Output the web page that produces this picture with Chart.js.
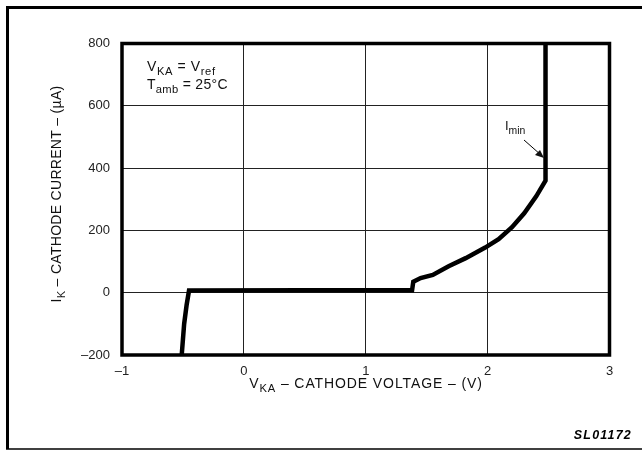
<!DOCTYPE html>
<html>
<head>
<meta charset="utf-8">
<script src="https://cdn.jsdelivr.net/npm/chart.js@4"></script>
<style>
  body { margin: 0; background: #fff; }
  #wrap { position: relative; width: 642px; height: 450px; }
</style>
</head>
<body>
<div id="wrap"><canvas id="chart" width="642" height="450"></canvas></div>
<script>
// Curve: cathode voltage (V) vs cathode current (uA)
const voltage = [-0.51, -0.50, -0.49, -0.47, -0.45, 0.50, 1.38, 1.39, 1.45, 1.55, 1.68, 1.82, 1.98, 2.09, 2.20, 2.30, 2.40, 2.475, 2.475];
const current = [-200, -150, -100, -40, 7, 8, 8, 35, 47, 57, 85, 111, 145, 172, 210, 255, 310, 360, 800];

const xTicks = [-1, 0, 1, 2, 3];
const yTicks = [-200, 0, 200, 400, 600, 800];

const points = voltage.map((v, i) => ({ x: v, y: current[i] }));

const FONT = '"Liberation Sans", Arial, sans-serif';

// draw text made of [text, isSubscript] parts
function drawParts(ctx, parts, x, y, size, align, spacing) {
    ctx.letterSpacing = (spacing || 0) + 'px';
    let widths = parts.map(p => {
        ctx.font = (p[1] ? size * 0.8 : size) + 'px ' + FONT;
        return ctx.measureText(p[0]).width;
    });
    let total = widths.reduce((a, b) => a + b, 0);
    let cx = align === 'center' ? x - total / 2 : x;
    ctx.textAlign = 'left';
    ctx.textBaseline = 'alphabetic';
    parts.forEach((p, i) => {
        ctx.font = (p[1] ? size * 0.8 : size) + 'px ' + FONT;
        ctx.fillText(p[0], cx, p[1] ? y + size * 0.3 : y);
        cx += widths[i];
    });
    ctx.letterSpacing = '0px';
}

const decorations = {
    id: 'decorations',
    afterDatasetsDraw(chart) {
        const ctx = chart.ctx;
        const a = chart.chartArea;
        ctx.save();
        ctx.fillStyle = '#000';
        ctx.strokeStyle = '#000';

        // thick plot border
        ctx.lineWidth = 3.5;
        ctx.strokeRect(a.left, a.top, a.right - a.left, a.bottom - a.top);

        // outer frame
        ctx.lineWidth = 3;
        ctx.beginPath();
        ctx.moveTo(7.5, 449);
        ctx.lineTo(7.5, 7.5);
        ctx.lineTo(642, 7.5);
        ctx.stroke();
        ctx.lineWidth = 1.5;
        ctx.beginPath();
        ctx.moveTo(6, 449);
        ctx.lineTo(642, 449);
        ctx.stroke();

        ctx.fillStyle = '#111';
        // condition note
        drawParts(ctx, [['V', 0], ['KA', 1], [' = V', 0], ['ref', 1]], 147, 71, 14, 'left', 0.6);
        drawParts(ctx, [['T', 0], ['amb', 1], [' = 25\u00B0C', 0]], 147, 89, 14, 'left', 0.3);

        // I_min label and arrow
        drawParts(ctx, [['I', 0], ['min', 1]], 505, 130, 13, 'left', 0);
        ctx.lineWidth = 1;
        ctx.beginPath();
        ctx.moveTo(524, 140);
        ctx.lineTo(541, 155);
        ctx.stroke();
        ctx.beginPath();
        ctx.moveTo(544, 158);
        ctx.lineTo(535, 155);
        ctx.lineTo(540, 150);
        ctx.closePath();
        ctx.fill();

        // x axis title
        drawParts(ctx, [['V', 0], ['KA', 1], [' \u2013 CATHODE VOLTAGE \u2013 (V)', 0]], 366, 388, 14, 'center', 0.9);

        // y axis title (rotated)
        ctx.save();
        ctx.translate(61, 194);
        ctx.rotate(-Math.PI / 2);
        drawParts(ctx, [['I', 0], ['K', 1], [' \u2013 CATHODE CURRENT \u2013 (\u00B5A)', 0]], 0, 0, 14, 'center', 0.3);
        ctx.restore();

        // figure code
        ctx.fillStyle = '#000';
        ctx.letterSpacing = '1.2px';
        ctx.font = 'italic bold 12.5px ' + FONT;
        ctx.textAlign = 'right';
        ctx.fillText('SL01172', 632, 439);
        ctx.letterSpacing = '0px';
        ctx.restore();
    }
};

new Chart(document.getElementById('chart'), {
    type: 'scatter',
    data: {
        datasets: [{
            data: points,
            showLine: true,
            borderColor: '#000',
            borderWidth: 4.5,
            pointRadius: 0,
            tension: 0,
            fill: false
        }]
    },
    options: {
        responsive: false,
        animation: false,
        layout: { padding: { top: 43.5, right: 32.5, left: 0, bottom: 0 } },
        plugins: { legend: { display: false }, tooltip: { enabled: false } },
        scales: {
            x: {
                type: 'linear',
                min: -1,
                max: 3,
                afterBuildTicks: s => { s.ticks = xTicks.map(v => ({ value: v })); },
                afterFit: s => { s.height = 95; },
                grid: { color: '#222', lineWidth: 1, drawTicks: false },
                border: { display: false },
                ticks: {
                    padding: 9,
                    color: '#222',
                    font: { family: FONT, size: 13 },
                    callback: v => (v < 0 ? '\u2013' + Math.abs(v) : String(v))
                }
            },
            y: {
                type: 'linear',
                min: -200,
                max: 800,
                afterBuildTicks: s => { s.ticks = yTicks.map(v => ({ value: v })); },
                afterFit: s => { s.width = 122; },
                grid: { color: '#222', lineWidth: 1, drawTicks: false },
                border: { display: false },
                ticks: {
                    padding: 12,
                    color: '#222',
                    font: { family: FONT, size: 13 },
                    callback: v => (v < 0 ? '\u2013' + Math.abs(v) : String(v))
                }
            }
        }
    },
    plugins: [decorations]
});
</script>
</body>
</html>
